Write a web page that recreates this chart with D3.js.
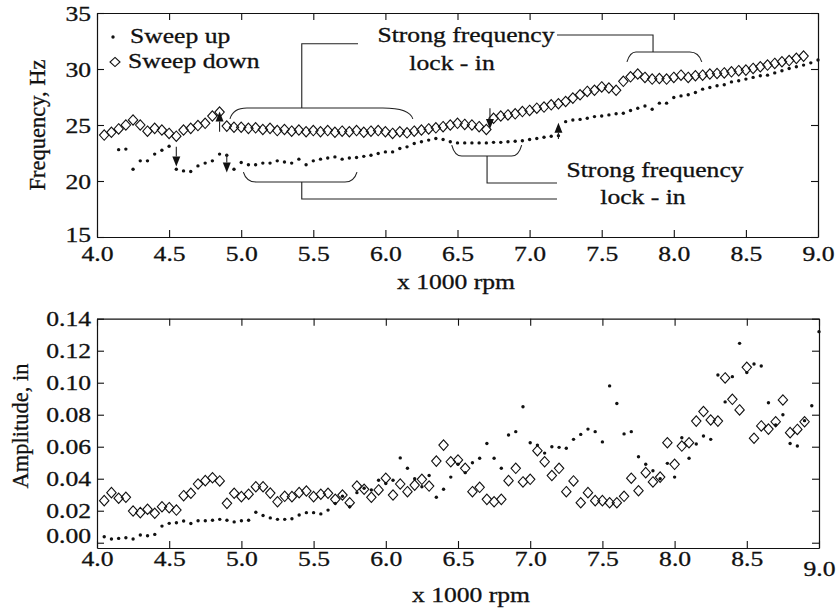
<!DOCTYPE html>
<html>
<head>
<meta charset="utf-8">
<script src="https://cdn.jsdelivr.net/npm/d3@7"></script>
<style>
  body { margin: 0; background: #fff; }
  svg { display: block; }
  svg text { font-family: "Liberation Serif", "Times New Roman", serif !important; stroke: #111; stroke-width: 0.3px; }
</style>
</head>
<body>
<svg id="chart" width="838" height="608"></svg>
<script>
// rpm grid, x 1000 rpm (one reading every 50 rpm)
const rpm = [
  4.05, 4.10, 4.15, 4.20, 4.25, 4.30, 4.35, 4.40, 4.45, 4.50,
  4.55, 4.60, 4.65, 4.70, 4.75, 4.80, 4.85, 4.90, 4.95, 5.00,
  5.05, 5.10, 5.15, 5.20, 5.25, 5.30, 5.35, 5.40, 5.45, 5.50,
  5.55, 5.60, 5.65, 5.70, 5.75, 5.80, 5.85, 5.90, 5.95, 6.00,
  6.05, 6.10, 6.15, 6.20, 6.25, 6.30, 6.35, 6.40, 6.45, 6.50,
  6.55, 6.60, 6.65, 6.70, 6.75, 6.80, 6.85, 6.90, 6.95, 7.00,
  7.05, 7.10, 7.15, 7.20, 7.25, 7.30, 7.35, 7.40, 7.45, 7.50,
  7.55, 7.60, 7.65, 7.70, 7.75, 7.80, 7.85, 7.90, 7.95, 8.00,
  8.05, 8.10, 8.15, 8.20, 8.25, 8.30, 8.35, 8.40, 8.45, 8.50,
  8.55, 8.60, 8.65, 8.70, 8.75, 8.80, 8.85, 8.90, 8.95, 9.00
];

// frequency, Hz
const freqUp = [
  null, null, 22.8, 22.85, 21.05, 21.8, 21.8, 22.4, 22.75, 23.1,
  21.05, 20.9, 20.85, 21.35, 21.6, 21.8, 22.4, 22.3, 21.05, 21.65,
  21.45, 21.45, 21.6, 21.6, 21.8, 21.7, 21.6, 21.95, 21.45, 21.8,
  21.95, 22.05, 22.15, 21.95, 22.05, 22.1, 22.2, 22.3, 22.45, 22.6,
  22.6, 22.9, 23.05, 23.35, 23.5, 23.65, 23.8, 23.7, 23.5, 23.4,
  23.4, 23.4, 23.4, 23.4, 23.45, 23.45, 23.5, 23.55, 23.6, 23.7,
  23.8, 23.9, 24.0, 24.05, 25.3, 25.45, 25.5, 25.6, 25.75, 25.8,
  25.9, 26.0, 26.05, 26.3, 26.5, 26.7, 26.4, 26.95, 26.95, 27.45,
  27.6, 27.7, 27.9, 28.2, 28.35, 28.5, 28.6, 28.85, 28.95, 29.1,
  29.25, 29.4, 29.45, 29.65, 29.85, 30.05, 30.2, 30.35, 30.55, 30.8
];
const freqDown = [
  24.1, 24.35, 24.65, 25.0, 25.45, 25.0, 24.45, 24.7, 24.55, 24.25,
  24.0, 24.55, 24.7, 24.95, 25.15, 25.8, 26.15, 24.9, 24.8, 24.8,
  24.7, 24.75, 24.6, 24.7, 24.5, 24.6, 24.45, 24.55, 24.4, 24.5,
  24.4, 24.5, 24.35, 24.45, 24.4, 24.5, 24.35, 24.45, 24.5, 24.4,
  24.25, 24.4, 24.3, 24.45, 24.55, 24.65, 24.75, 24.85, 25.0, 25.15,
  25.05, 25.0, 24.85, 24.6, 25.6, 25.8, 25.9, 26.0, 26.2, 26.3,
  26.5, 26.6, 26.8, 26.9, 27.1, 27.4, 27.7, 28.0, 28.1, 28.4,
  28.3, 28.1, 28.9, 29.3, 29.55, 29.25, 29.1, 29.15, 29.1, 29.25,
  29.45, 29.25, 29.4, 29.45, 29.55, 29.6, 29.65, 29.75, 29.85, 29.9,
  30.05, 30.2, 30.35, 30.5, 30.65, 30.75, 30.95, 31.15, null, null
];

// amplitude, in
const ampUp = [
  0.0037, 0.0023, 0.0027, 0.0031, 0.0023, 0.0048, 0.0044, 0.0052, 0.0104, 0.0121,
  0.0125, 0.0136, 0.012, 0.0137, 0.0137, 0.014, 0.0146, 0.014, 0.013, 0.0137,
  0.014, 0.019, 0.017, 0.0155, 0.0146, 0.0146, 0.015, 0.0173, 0.0188, 0.0188,
  0.018, 0.0204, 0.0246, 0.029, 0.0225, 0.0313, 0.034, 0.033, 0.039, 0.037,
  0.039, 0.053, 0.0465, 0.040, 0.035, 0.042, 0.0284, 0.0334, 0.041, 0.049,
  0.0438, 0.05, 0.0528, 0.062, 0.0528, 0.0465, 0.0673, 0.0694, 0.085, 0.0625,
  0.061, 0.056, 0.06, 0.0596, 0.059, 0.0646, 0.0677, 0.071, 0.0694, 0.063,
  0.098, 0.087, 0.068, 0.0694, 0.0537, 0.049, 0.045, 0.040, 0.0496, 0.041,
  0.0656, 0.0528, 0.0617, 0.0667, 0.0646, 0.1048, 0.088, 0.1038, 0.1246, 0.1063,
  0.1117, 0.1104, 0.0875, 0.0736, 0.080, 0.062, 0.0604, 0.0763, 0.0856, 0.1319
];
const ampDown = [
  0.0263, 0.0313, 0.0278, 0.0284, 0.0198, 0.0188, 0.0209, 0.0184, 0.0225, 0.0219,
  0.0204, 0.0294, 0.0309, 0.0367, 0.0388, 0.0406, 0.0386, 0.0246, 0.0309, 0.0288,
  0.0303, 0.035, 0.035, 0.031, 0.0256, 0.029, 0.0288, 0.0313, 0.0323, 0.0288,
  0.0303, 0.0309, 0.0271, 0.0298, 0.025, 0.0354, 0.0334, 0.0284, 0.033, 0.0403,
  0.0298, 0.0367, 0.0319, 0.036, 0.0396, 0.0354, 0.051, 0.061, 0.0506, 0.0517,
  0.0465, 0.0319, 0.0346, 0.0271, 0.0256, 0.0271, 0.0388, 0.0465, 0.038, 0.0396,
  0.0575, 0.0506, 0.042, 0.0465, 0.0319, 0.0386, 0.025, 0.0313, 0.0263, 0.0263,
  0.025, 0.025, 0.029, 0.0403, 0.0325, 0.0438, 0.038, 0.041, 0.0625, 0.049,
  0.0604, 0.0625, 0.076, 0.082, 0.0767, 0.076, 0.103, 0.0896, 0.083, 0.1096,
  0.0653, 0.073, 0.071, 0.0756, 0.0892, 0.0688, 0.0708, 0.0756, null, null
];

const rpmTicks = [4.0, 4.5, 5.0, 5.5, 6.0, 6.5, 7.0, 7.5, 8.0, 8.5, 9.0];
const freqTicks = [15, 20, 25, 30, 35];
const ampTicks = [0, 0.02, 0.04, 0.06, 0.08, 0.10, 0.12, 0.14];

// annotations on the frequency plot (rpm, Hz)
const arrows = [
  { rpm: 4.55, from: 23.05, to: 21.3 },
  { rpm: 4.85, from: 24.4, to: 26.2 },
  { rpm: 4.90, from: 22.4, to: 20.75 },
  { rpm: 6.725, from: 26.5, to: 24.65 },
  { rpm: 7.20, from: 23.75, to: 25.2 }
];
const braces = [
  { x0: 4.922, x1: 6.19, y: 26.52, end: 25.54, r0: 17, r1: 30 },
  { x0: 7.675, x1: 8.194, y: 31.52, end: 30.63, r0: 9, r1: 12 },
  { x0: 5.015, x1: 5.803, y: 19.91, end: 20.8, r0: 13, r1: 12 },
  { x0: 6.46, x1: 6.945, y: 22.23, end: 23.21, r0: 10, r1: 10 }
];
const leaders = [
  [[5.42, 26.52], [5.42, 32.25], [5.81, 32.25]],
  [[7.856, 31.52], [7.856, 33.04], [7.19, 33.04]],
  [[5.42, 19.91], [5.42, 18.39], [7.19, 18.39]],
  [[6.705, 22.23], [6.705, 19.82], [7.19, 19.82]]
];
const notes = [
  { text: "Strong frequency", rpm: 6.559, hz: 32.41 },
  { text: "lock - in", rpm: 6.462, hz: 29.91 },
  { text: "Strong frequency", rpm: 7.87, hz: 20.36 },
  { text: "lock - in", rpm: 7.786, hz: 17.95 }
];

const ink = "#111";
const stretch = 1.25;   // the scanned text is wider than it is tall
const fs = 20.5;

const svg = d3.select("#chart");

const topX = d3.scaleLinear().domain([4, 9]).range([97, 818]);
const topY = d3.scaleLinear().domain([15, 35]).range([237, 13]);
const botX = d3.scaleLinear().domain([4, 9]).range([97, 819]);
const botY = d3.scaleLinear().domain([-0.0033, 0.14]).range([548, 318.7]);

function wide(sel, x, y) {
  sel.attr("transform", `translate(${x},${y}) scale(${stretch},1)`);
}

//Draws the frame, inward ticks on all four sides and labels
function frame(x, y, yTicks, yFmt, xLabelDrop, yLabelDrop) {
  const g = svg.append("g").attr("color", ink);
  const x0 = x.range()[0], x1 = x.range()[1];
  const yb = y.range()[0], yt = y.range()[1];

  const bottom = g.append("g").attr("transform", `translate(0,${yb})`)
    .call(d3.axisBottom(x).tickValues(rpmTicks).tickSize(-7).tickSizeOuter(0).tickFormat(d3.format(".1f")));
  bottom.selectAll("text")
    .attr("y", null).attr("dy", null)
    .each(function (d) { wide(d3.select(this), 0, xLabelDrop(d)); });

  g.append("g").attr("transform", `translate(0,${yt})`)
    .call(d3.axisTop(x).tickValues(rpmTicks).tickSize(-7).tickSizeOuter(0).tickFormat(""));

  const left = g.append("g").attr("transform", `translate(${x0},0)`)
    .call(d3.axisLeft(y).tickValues(yTicks).tickSize(-7).tickSizeOuter(0).tickFormat(yFmt));
  left.selectAll("text")
    .attr("x", null).attr("dy", null)
    .each(function (d) { wide(d3.select(this), -6, yLabelDrop(d)); });

  g.append("g").attr("transform", `translate(${x1},0)`)
    .call(d3.axisRight(y).tickValues(yTicks).tickSize(-7).tickSizeOuter(0).tickFormat(""));

  g.selectAll("g").attr("font-size", fs);
  g.selectAll(".domain").attr("stroke-width", 1.2);
  g.selectAll(".tick line").attr("stroke-width", 1.1);
}

frame(topX, topY, freqTicks, d3.format("d"), d => 24, d => (d === 15 ? 4 : 7));
frame(botX, botY, ampTicks, d3.format(".2f"), d => (d === 9 ? 28 : 18), d => (d === 0 ? 0 : 7));

function diamond(hw, hh) {
  return `M0,${-hh}L${hw},0L0,${hh}L${-hw},0Z`;
}

function plotSeries(x, y, values, kind) {
  const pts = rpm.map((r, i) => ({ r: r, v: values[i] })).filter(d => d.v !== null);
  const g = svg.append("g");
  if (kind === "dot") {
    g.selectAll("circle").data(pts).enter().append("circle")
      .attr("cx", d => x(d.r)).attr("cy", d => y(d.v))
      .attr("r", 1.7).attr("fill", ink);
  } else {
    g.selectAll("path").data(pts).enter().append("path")
      .attr("d", diamond(4.7, 5.2))
      .attr("transform", d => `translate(${x(d.r)},${y(d.v)})`)
      .attr("fill", "none").attr("stroke", ink).attr("stroke-width", 1.1);
  }
}

plotSeries(topX, topY, freqDown, "diamond");
plotSeries(topX, topY, freqUp, "dot");
plotSeries(botX, botY, ampDown, "diamond");
plotSeries(botX, botY, ampUp, "dot");

// annotations
const ann = svg.append("g").attr("stroke", "#222").attr("stroke-width", 1.1).attr("fill", "none");

braces.forEach(b => {
  const a = topX(b.x0), c = topX(b.x1), y = topY(b.y), e = topY(b.end);
  ann.append("path").attr("d",
    `M${a},${e}Q${a + 3},${y} ${a + b.r0},${y}L${c - b.r1},${y}Q${c - 3},${y} ${c},${e}`);
});

const line = d3.line().x(d => topX(d[0])).y(d => topY(d[1]));
leaders.forEach(l => ann.append("path").attr("d", line(l)));

arrows.forEach(a => {
  const x = topX(a.rpm), y0 = topY(a.from), y1 = topY(a.to);
  const s = y1 > y0 ? 1 : -1;
  const base = y1 - s * 10;
  ann.append("line").attr("x1", x).attr("x2", x).attr("y1", y0).attr("y2", base);
  svg.append("path")
    .attr("d", `M${x},${y1}L${x - 4},${base}L${x + 4},${base}Z`)
    .attr("fill", ink);
});

notes.forEach(n => {
  svg.append("text")
    .attr("text-anchor", "middle").attr("font-size", fs).attr("fill", ink)
    .text(n.text)
    .call(wide, topX(n.rpm), topY(n.hz));
});

// legend
svg.append("circle").attr("cx", 113).attr("cy", 37).attr("r", 1.7).attr("fill", ink);
svg.append("text").attr("font-size", fs).attr("fill", ink).text("Sweep up").call(wide, 130, 43);
svg.append("path").attr("d", diamond(5, 4.6)).attr("transform", "translate(115,62)")
  .attr("fill", "none").attr("stroke", ink).attr("stroke-width", 1.1);
svg.append("text").attr("font-size", fs).attr("fill", ink).text("Sweep down").call(wide, 128, 68);

// axis titles
svg.append("text").attr("text-anchor", "middle").attr("font-size", fs).attr("fill", ink)
  .text("x 1000 rpm").call(wide, 456, 289);
svg.append("text").attr("text-anchor", "middle").attr("font-size", fs).attr("fill", ink)
  .text("x 1000 rpm").call(wide, 471, 602);
svg.append("text").attr("text-anchor", "middle").attr("font-size", 22.5).attr("fill", ink)
  .attr("transform", "translate(45,125) rotate(-90)").text("Frequency, Hz");
svg.append("text").attr("text-anchor", "middle").attr("font-size", 22.5).attr("fill", ink)
  .attr("transform", "translate(28,426) rotate(-90)").text("Amplitude, in");
</script>
</body>
</html>
